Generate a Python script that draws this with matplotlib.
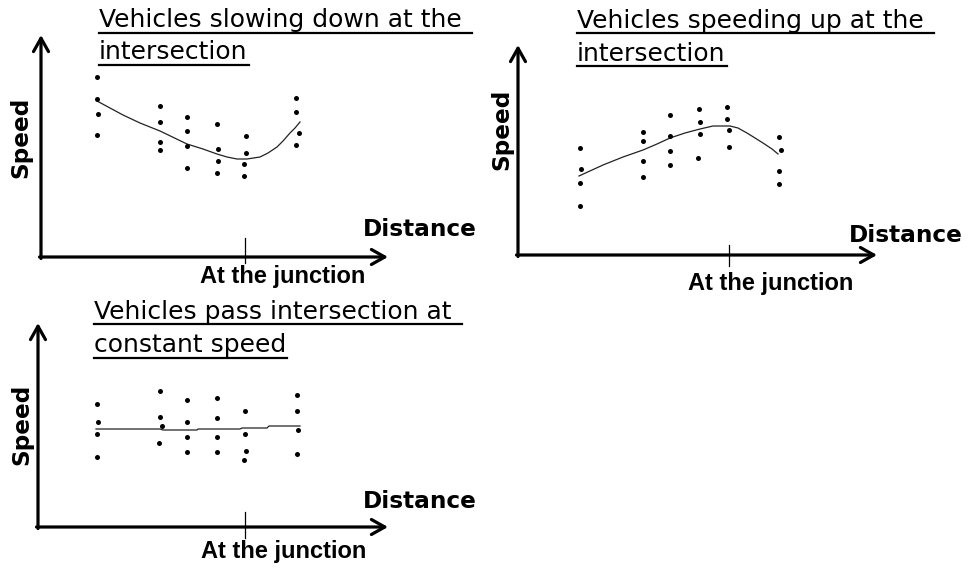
import matplotlib
matplotlib.use("Agg")
import matplotlib.pyplot as plt
from matplotlib.lines import Line2D

W, H, DPI = 971, 568, 100

# ---------------- data (distance, speed) ----------------
# Panel 1: vehicles slowing down
slow_dot_distance = [56, 56, 57, 56, 119, 119, 119, 119, 146, 146, 146, 146,
                     176, 177, 177, 176, 205, 205, 203, 203, 255, 255, 258, 255]
slow_dot_speed = [180, 158, 143, 122, 151, 135, 115, 107, 140, 126, 111, 89,
                  133, 108, 96, 84, 121, 104, 93, 81, 159, 145, 124, 112]
slow_trend_distance = [56, 82, 99, 119, 146, 162, 176, 186, 196, 206, 219, 227,
                       236, 242, 249, 254, 259]
slow_trend_speed = [156, 142, 134, 126, 113, 108, 103, 100, 98, 98, 100, 104,
                    110, 116, 124, 129, 135]

# Panel 2: vehicles speeding up
fast_dot_distance = [62, 63, 62, 62, 125, 125, 125, 125, 152, 152, 152, 152,
                     181, 182, 182, 180, 209, 209, 211, 211, 261, 263, 261, 261]
fast_dot_speed = [107, 86, 72, 49, 123, 114, 94, 78, 140, 119, 104, 90,
                  146, 133, 121, 97, 148, 136, 125, 108, 118, 105, 84, 71]
fast_trend_distance = [61, 85, 105, 125, 139, 152, 167, 182, 195, 212, 220, 229,
                       237, 245, 254, 260]
fast_trend_speed = [79, 90, 98, 105, 111, 117, 122, 126, 129, 129, 127, 122,
                    117, 112, 106, 101]

# Panel 3: constant speed
const_dot_distance = [59, 60, 59, 59, 122, 122, 124, 121, 149, 149, 149, 149,
                      179, 179, 179, 179, 207, 207, 208, 206, 259, 259, 260, 259]
const_dot_speed = [123, 105, 93, 70, 136, 110, 101, 84, 127, 105, 90, 75,
                   129, 109, 90, 75, 116, 93, 76, 67, 132, 116, 97, 73]
const_trend_distance = [58, 122, 125, 159, 160, 202, 204, 229, 231, 262]
const_trend_speed = [98, 98, 97, 97, 98, 98, 99, 99, 101, 101]

junction_distance = [204, 211, 207]

titles = [["Vehicles slowing down at the ", "intersection"],
          ["Vehicles speeding up at the ", "intersection"],
          ["Vehicles pass intersection at ", "constant speed"]]
y_label = "Speed"
x_label = "Distance"
junction_label = "At the junction"

# ---------------- layout (pixels) ----------------
fig = plt.figure(figsize=(W / DPI, H / DPI), dpi=DPI)
fig.patch.set_facecolor("white")


def fx(x):
    return x / W


def fy(y):
    return 1 - y / H


panels = [
    dict(box=(0, 0, 480, 290), origin=(41, 257), ytip=222, xtip=347, tick=(19, -6),
         dots=(slow_dot_distance, slow_dot_speed),
         trend=(slow_trend_distance, slow_trend_speed),
         title_x=99, title_base=(27, 59), ul=(33, 65),
         speed_c=(21, 137), dist=(363, 236), junc=(200, 283)),
    dict(box=(480, 0, 971, 300), origin=(518, 255), ytip=210, xtip=359, tick=(10, -11),
         dots=(fast_dot_distance, fast_dot_speed),
         trend=(fast_trend_distance, fast_trend_speed),
         title_x=577, title_base=(28, 61), ul=(33, 66),
         speed_c=(502, 129), dist=(849, 242), junc=(688, 290)),
    dict(box=(0, 290, 480, 568), origin=(38, 527), ytip=204, xtip=350, tick=(15, -11),
         dots=(const_dot_distance, const_dot_speed),
         trend=(const_trend_distance, const_trend_speed),
         title_x=94, title_base=(319, 352), ul=(324, 358),
         speed_c=(22, 424), dist=(363, 508), junc=(201, 558)),
]

title_font = dict(family="DejaVu Sans", size=18, color="black")
label_font = dict(family="DejaVu Sans", size=16.7, weight="bold", color="black")
junc_font = dict(family="Liberation Sans", size=17, weight="bold", color="black")

title_texts = []
for i, p in enumerate(panels):
    l, t, r, b = p["box"]
    ox, oy = p["origin"]
    ax = fig.add_axes([fx(l), fy(b), (r - l) / W, (b - t) / H])
    ax.set_xlim(l - ox, r - ox)
    ax.set_ylim(oy - b, oy - t)
    ax.axis("off")

    # axes with open arrow heads
    arrow = dict(arrowstyle="->,head_length=0.8,head_width=0.45", lw=2.3,
                 color="black", shrinkA=0, shrinkB=0, mutation_scale=12)
    ax.annotate("", xy=(0, p["ytip"]), xytext=(0, -1.5), arrowprops=arrow,
                annotation_clip=False)
    ax.annotate("", xy=(p["xtip"], 0), xytext=(-1.5, 0), arrowprops=arrow,
                annotation_clip=False)

    # junction tick
    jd = junction_distance[i]
    ax.plot([jd, jd], list(p["tick"]), color="black", lw=0.9, clip_on=False)

    # trend line and dots
    td, ts = p["trend"]
    ax.plot(td, ts, color="#222222", lw=0.9, clip_on=False,
            solid_joinstyle="round")
    dd, ds = p["dots"]
    ax.plot(dd, ds, linestyle="none", marker="o", ms=3.6, color="black",
            markeredgewidth=0, clip_on=False)

    # texts
    lines = titles[i]
    t1 = fig.text(fx(p["title_x"]), fy(p["title_base"][0]), lines[0],
                  ha="left", va="baseline", **title_font)
    t2 = fig.text(fx(p["title_x"]), fy(p["title_base"][1]), lines[1],
                  ha="left", va="baseline", **title_font)
    title_texts.append((t1, t2, p))
    fig.text(fx(p["speed_c"][0]), fy(p["speed_c"][1]), y_label, rotation=90,
             ha="center", va="center", **label_font)
    fig.text(fx(p["dist"][0]), fy(p["dist"][1]), x_label,
             ha="left", va="baseline", **label_font)
    fig.text(fx(p["junc"][0]), fy(p["junc"][1]), junction_label,
             ha="left", va="baseline", **junc_font)

# underlines from rendered text extents
fig.canvas.draw()
renderer = fig.canvas.get_renderer()
for t1, t2, p in title_texts:
    for txt, uy, extra in ((t1, p["ul"][0], 2), (t2, p["ul"][1], 1)):
        bb = txt.get_window_extent(renderer)
        x0 = p["title_x"]
        x1 = bb.x1 + extra
        fig.add_artist(Line2D([fx(x0), fx(x1)], [fy(uy), fy(uy)],
                              transform=fig.transFigure, color="black", lw=1.6))

fig.savefig("out.png", dpi=DPI, facecolor="white")
